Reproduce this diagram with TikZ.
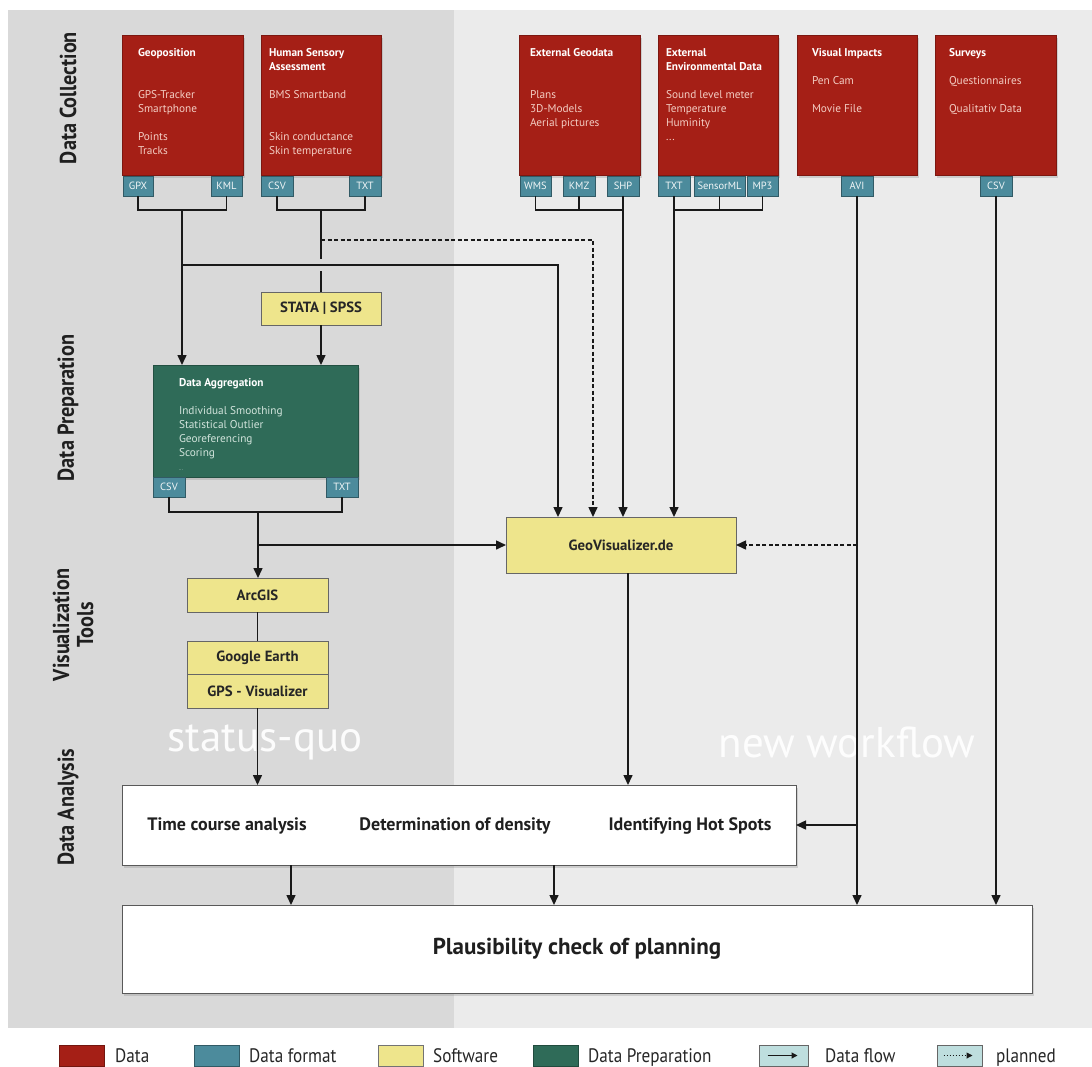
\documentclass[tikz,border=0pt]{standalone}
\usepackage{fontspec}
\setmainfont{PT Sans}
\newfontfamily\condfont[FakeStretch=0.88]{PT Sans}
\usetikzlibrary{arrows.meta,shadows}
\definecolor{datared}{RGB}{165,31,22}
\definecolor{fmtblue}{RGB}{76,139,156}
\definecolor{softyel}{RGB}{238,229,140}
\definecolor{prepgreen}{RGB}{47,107,88}
\definecolor{panelL}{RGB}{217,217,217}
\definecolor{panelR}{RGB}{235,235,235}
\definecolor{pinktext}{RGB}{243,205,195}
\definecolor{greentext}{RGB}{210,228,220}
\definecolor{linecol}{RGB}{25,25,25}
\definecolor{legcyan}{RGB}{190,222,222}
\begin{document}
\begin{tikzpicture}[x=1pt,y=-1pt,
  shad/.style={drop shadow={shadow xshift=2pt,shadow yshift=-3pt,opacity=0.28}},
  databox/.style={fill=datared, draw=datared!75!black, line width=0.5pt, inner sep=0pt, outer sep=0pt, shad},
  prepbox/.style={fill=prepgreen, draw=prepgreen!75!black, line width=0.5pt, inner sep=0pt, outer sep=0pt, shad},
  fmttag/.style={fill=fmtblue, draw=fmtblue!65!black, line width=0.5pt, text=white!92!fmtblue, inner sep=0pt, outer sep=0pt, minimum height=20pt, font=\fontsize{10.5}{11}\selectfont},
  softbox/.style={fill=softyel, draw=black!60, line width=0.6pt, inner sep=0pt, outer sep=0pt, text=black!85, font=\bfseries\fontsize{14.8}{16}\selectfont},
  whitebox/.style={fill=white, draw=black!65, line width=0.7pt, inner sep=0pt, outer sep=0pt, shad},
  boxtext/.style={anchor=north west, inner sep=0pt, outer sep=0pt, align=left, text=pinktext, font=\fontsize{11.3}{14}\selectfont},
  sidelabel/.style={rotate=90, align=center, text=black!88, font=\condfont\bfseries\fontsize{23}{24}\selectfont},
  anatext/.style={inner sep=0pt, font=\bfseries\fontsize{18}{20}\selectfont, text=black!88},
  flowline/.style={draw=linecol, line width=1.5pt},
  flowarrow/.style={flowline, -{Triangle[length=10pt,width=9pt]}},
  planline/.style={draw=linecol, line width=1.5pt, dash pattern=on 4pt off 2.5pt},
  planarrow/.style={planline, -{Triangle[length=10pt,width=9pt]}},
  legbox/.style={minimum width=45pt, minimum height=21pt, inner sep=0pt, outer sep=0pt, line width=0.6pt},
  legtext/.style={anchor=base west, inner sep=0pt, text=black!85, font=\condfont\fontsize{19.5}{21}\selectfont},
  bigword/.style={text=white, opacity=0.92, font=\fontsize{43}{46}\selectfont}
]
\useasboundingbox (0,0) rectangle (1092,1066);
\fill[white] (0,0) rectangle (1092,1066);
\fill[panelL] (8,10) rectangle (454,1028);
\fill[panelR] (454,10) rectangle (1092,1028);

% phase labels
\node[sidelabel] (labA) at (68,98) {Data Collection};
\node[sidelabel] (labB) at (68,408) {Data Preparation};
\node[sidelabel] (labC) at (73,625) {Visualization\\Tools};
\node[sidelabel] (labD) at (68,807) {Data Analysis};

\node[bigword] (sq) at (265,742) {status-quo};
\node[bigword] (nw) at (847,742) {new workflow};

% data boxes
\node[databox, minimum width=121pt, minimum height=140pt] (geo) at (182.5,105) {};
\node[databox, minimum width=120pt, minimum height=140pt] (hum) at (321,105) {};
\node[databox, minimum width=121pt, minimum height=140pt] (extg) at (579.5,105) {};
\node[databox, minimum width=120pt, minimum height=140pt] (env) at (718,105) {};
\node[databox, minimum width=120pt, minimum height=140pt] (vis) at (857,105) {};
\node[databox, minimum width=121pt, minimum height=140pt] (sur) at (995.5,105) {};

\node[boxtext] (geot) at (138,46.2) {\strut\textbf{\color{white}Geoposition}\\[28pt]GPS-Tracker\\Smartphone\\[14pt]Points\\Tracks};
\node[boxtext] (humt) at (269,46.2) {\strut\textbf{\color{white}Human Sensory}\\\textbf{\color{white}Assessment}\\[14pt]BMS Smartband\\[28pt]Skin conductance\\Skin temperature};
\node[boxtext] (extgt) at (530,46.2) {\strut\textbf{\color{white}External Geodata}\\[28pt]Plans\\3D-Models\\Aerial pictures};
\node[boxtext] (envt) at (666,46.2) {\strut\textbf{\color{white}External}\\\textbf{\color{white}Environmental Data}\\[14pt]Sound level meter\\Temperature\\Huminity\\...};
\node[boxtext] (vist) at (812,46.2) {\strut\textbf{\color{white}Visual Impacts}\\[14pt]Pen Cam\\[14pt]Movie File};
\node[boxtext] (surt) at (949,46.2) {\strut\textbf{\color{white}Surveys}\\[14pt]Questionnaires\\[14pt]Qualitativ Data};

% format tags
\node[fmttag, minimum width=30pt] (gpx) at (138,186) {GPX};
\node[fmttag, minimum width=31pt] (kml) at (226.5,186) {KML};
\node[fmttag, minimum width=32pt] (hcsv) at (277,186) {CSV};
\node[fmttag, minimum width=32pt] (htxt) at (365,186) {TXT};
\node[fmttag, minimum width=31pt] (wms) at (535.5,186) {WMS};
\node[fmttag, minimum width=32pt] (kmz) at (579,186) {KMZ};
\node[fmttag, minimum width=32pt] (shp) at (623,186) {SHP};
\node[fmttag, minimum width=32pt] (etxt) at (674,186) {TXT};
\node[fmttag, minimum width=51pt] (sml) at (719.5,186) {SensorML};
\node[fmttag, minimum width=31pt] (mp3) at (762.5,186) {MP3};
\node[fmttag, minimum width=32pt] (avi) at (857,186) {AVI};
\node[fmttag, minimum width=32pt] (scsv) at (996,186) {CSV};

% preparation
\node[softbox, minimum width=120pt, minimum height=33pt] (stata) at (321,308.5) {STATA | SPSS};
\node[prepbox, minimum width=205pt, minimum height=112pt] (agg) at (255.5,421) {};
\node[boxtext, text=greentext] (aggt) at (179,376.2) {\strut\textbf{\color{white}Data Aggregation}\\[14pt]Individual Smoothing\\Statistical Outlier\\Georeferencing\\Scoring\\{\tiny ...}};
\node[fmttag, minimum width=32pt] (acsv) at (169,487) {CSV};
\node[fmttag, minimum width=32pt] (atxt) at (342,487) {TXT};

% software
\node[softbox, minimum width=230pt, minimum height=56pt] (geov) at (621,545) {GeoVisualizer.de};
\node[softbox, minimum width=141pt, minimum height=34pt] (arcgis) at (257.5,595) {ArcGIS};
\node[softbox, minimum width=141pt, minimum height=33pt] (gearth) at (257.5,657.5) {Google Earth};
\node[softbox, minimum width=141pt, minimum height=34pt] (gpsv) at (257.5,691) {GPS - Visualizer};

% analysis
\node[whitebox, minimum width=674pt, minimum height=80pt] (ana) at (459,825) {};
\node[anatext] (an1) at (227,826) {Time course analysis};
\node[anatext] (an2) at (455,826) {Determination of density};
\node[anatext] (an3) at (690,826) {Identifying Hot Spots};
\node[whitebox, minimum width=910pt, minimum height=88pt, font=\bfseries\fontsize{23}{25}\selectfont, text=black!88] (plaus) at (577,949) {Plausibility check of planning};

% junction coordinates
\coordinate (geoj) at (182,210);
\coordinate (humj) at (321,210);
\coordinate (dj) at (321,240);
\coordinate (h1) at (182,265);
\coordinate (gapT) at (321,259);
\coordinate (gapB) at (321,271);
\coordinate (extj) at (623,210);
\coordinate (envj) at (674,210);
\coordinate (aggj) at (258,512);
\coordinate (aggj2) at (258,545);
\coordinate (avij1) at (857,545);
\coordinate (avij2) at (857,825);

% connectors
\draw[flowline] (gpx.south) |- (geoj) -| (kml.south);
\draw[flowarrow] (geoj) -- (geoj |- agg.north);
\draw[flowarrow] (h1) -| ([xshift=-63pt]geov.north);
\draw[flowline] (hcsv.south) |- (humj) -| (htxt.south);
\draw[flowline] (humj) -- (gapT);
\draw[flowline] (gapB) -- (stata.north);
\draw[flowarrow] (stata.south) -- (stata.south |- agg.north);
\draw[planarrow] (dj) -| ([xshift=-28pt]geov.north);
\draw[flowline] (wms.south) |- (extj);
\draw[flowline] (kmz.south) -- (kmz.south |- extj);
\draw[flowarrow] (shp.south) -- (shp.south |- geov.north);
\draw[flowline] (mp3.south) |- (envj);
\draw[flowline] (sml.south) -- (sml.south |- envj);
\draw[flowarrow] (etxt.south) -- (etxt.south |- geov.north);
\draw[flowarrow] (avi.south) -- (avi.south |- plaus.north);
\draw[planarrow] (avij1) -- (geov.east);
\draw[flowarrow] (avij2) -- (ana.east);
\draw[flowarrow] (scsv.south) -- (scsv.south |- plaus.north);
\draw[flowline] (acsv.south) |- (aggj) -| (atxt.south);
\draw[flowarrow] (aggj) -- (aggj |- arcgis.north);
\draw[flowarrow] (aggj2) -- (geov.west);
\draw[flowline] (arcgis.south) -- (gearth.north);
\draw[flowarrow] (gpsv.south) -- (gpsv.south |- ana.north);
\draw[flowarrow] ([xshift=7pt]geov.south) -- ([xshift=7pt]geov.south |- ana.north);
\draw[flowarrow] ([xshift=-168pt]ana.south) -- ([xshift=-168pt]ana.south |- plaus.north);
\draw[flowarrow] ([xshift=95pt]ana.south) -- ([xshift=95pt]ana.south |- plaus.north);

% legend
\node[legbox, fill=datared, draw=datared!70!black] (lg1) at (82,1055.5) {};
\node[legtext] (lt1) at (115,1062) {Data};
\node[legbox, fill=fmtblue, draw=fmtblue!65!black] (lg2) at (216.5,1055.5) {};
\node[legtext] (lt2) at (249,1062) {Data format};
\node[legbox, fill=softyel, draw=black!55] (lg3) at (400.5,1055.5) {};
\node[legtext] (lt3) at (433,1062) {Software};
\node[legbox, fill=prepgreen, draw=prepgreen!70!black] (lg4) at (555.5,1055.5) {};
\node[legtext] (lt4) at (588,1062) {Data Preparation};
\node[legbox, minimum width=49pt, fill=legcyan, draw=black!60] (lg5) at (783.5,1055.5) {};
\node[legtext] (lt5) at (825,1062) {Data flow};
\node[legbox, fill=legcyan, draw=black!60] (lg6) at (959.5,1055.5) {};
\node[legtext] (lt6) at (996,1062) {planned};
\draw[draw=linecol, line width=1.2pt, -{Triangle[length=6pt,width=6pt]}] ([xshift=-16pt]lg5.center) -- ([xshift=14pt]lg5.center);
\draw[draw=linecol, line width=1pt, dash pattern=on 1.5pt off 1.5pt, -{Triangle[length=6pt,width=6pt]}] ([xshift=-16pt]lg6.center) -- ([xshift=13pt]lg6.center);
\end{tikzpicture}
\end{document}
